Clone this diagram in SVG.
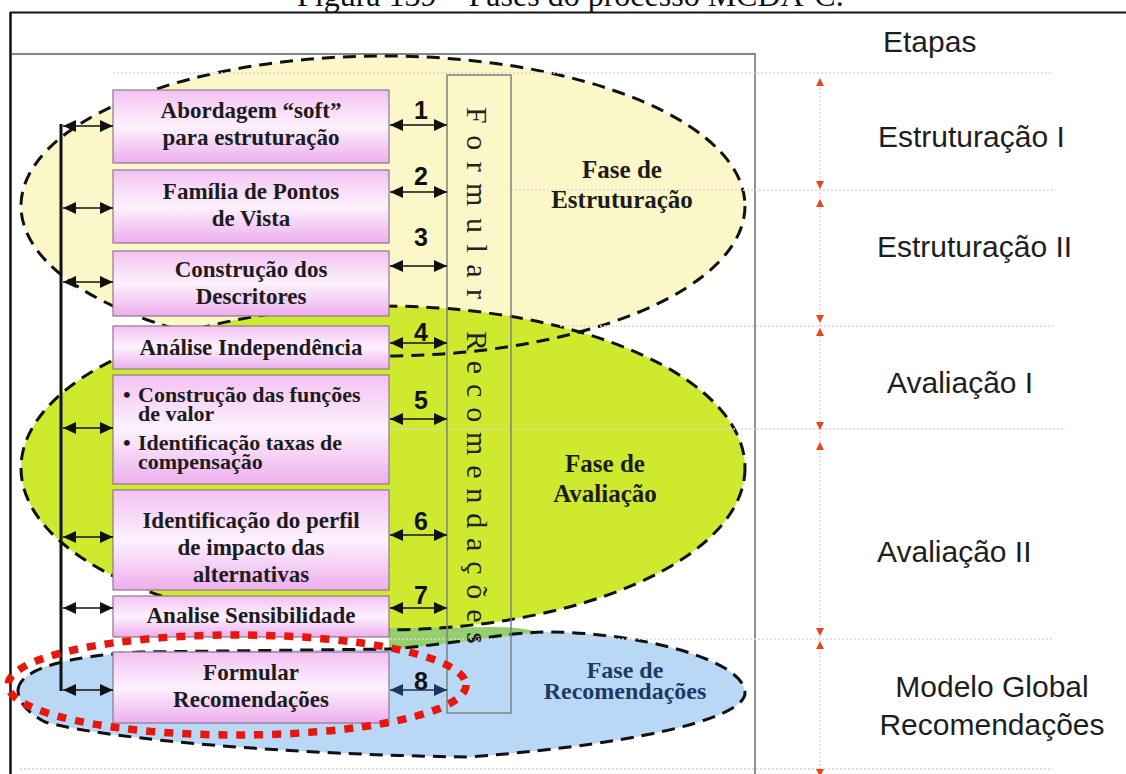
<svg xmlns="http://www.w3.org/2000/svg" xmlns:xlink="http://www.w3.org/1999/xlink" width="1126" height="774" viewBox="0 0 1126 774">
<defs>
<style>
.box{fill:url(#pink);stroke:#8a7a8a;stroke-width:1.2}
.bt{font-family:"Liberation Serif","Times New Roman",serif;font-weight:bold;font-size:23px;fill:#1c1c1c;text-anchor:middle}
.btl{font-family:"Liberation Serif","Times New Roman",serif;font-weight:bold;font-size:22px;fill:#1c1c1c}
.ph{font-family:"Liberation Serif","Times New Roman",serif;font-weight:bold;font-size:25px;fill:#1c1c1c;text-anchor:middle}
.et{font-family:"Liberation Sans",Arial,sans-serif;font-size:30px;fill:#1e1e1e}
.num{font-family:"Liberation Sans",Arial,sans-serif;font-weight:bold;font-size:25px;fill:#111;text-anchor:middle}
.col{font-family:"Liberation Serif","Times New Roman",serif;font-size:30px;fill:#222}
.dash{fill:none;stroke:#111;stroke-width:3;stroke-dasharray:13 8}
.arr{fill:none;stroke:#111;stroke-width:1.6;marker-start:url(#hk);marker-end:url(#hk)}
.arrb{fill:none;stroke:#1d3557;stroke-width:1.6;marker-start:url(#hb);marker-end:url(#hb)}
.guide{fill:none;stroke:#e6d2d2;stroke-width:1.5;stroke-dasharray:2 2}
.tri{fill:#e8471b}
</style>
<linearGradient id="pink" x1="0" y1="0" x2="0" y2="1">
<stop offset="0" stop-color="#f3c1f3"/>
<stop offset="0.5" stop-color="#fdf2fd"/>
<stop offset="1" stop-color="#edaeed"/>
</linearGradient>
<marker id="hk" viewBox="0 0 13 12" refX="13" refY="6" markerWidth="13" markerHeight="12" markerUnits="userSpaceOnUse" orient="auto-start-reverse"><path d="M0,0 L13,6 L0,12 z" fill="#111"/></marker>
<marker id="hb" viewBox="0 0 13 12" refX="13" refY="6" markerWidth="13" markerHeight="12" markerUnits="userSpaceOnUse" orient="auto-start-reverse"><path d="M0,0 L13,6 L0,12 z" fill="#1d3557"/></marker>
<ellipse id="eY" cx="383" cy="206" rx="362" ry="150"/>
<ellipse id="eG" cx="383" cy="468" rx="362" ry="162"/>
<path id="eB" d="M18,690 C20,668 70,656 140,652 L390,649 C450,645 500,633 545,632 C640,632 745,660 745,693 C745,715 660,742 470,757 C300,755 110,740 45,722 C28,713 18,702 18,690 Z"/>
</defs>
<rect width="1126" height="774" fill="#ffffff"/>
<text x="297" y="6" style="font-family:'Liberation Serif','Times New Roman',serif;font-size:32px;fill:#111">Figura 139 – Fases do processo MCDA-C.</text>
<line x1="10" y1="12.5" x2="1126" y2="12.5" stroke="#111" stroke-width="2"/>
<line x1="10.5" y1="12" x2="10.5" y2="774" stroke="#111" stroke-width="2.5"/>
<polyline points="12,54 755,54 755,774" fill="none" stroke="#858585" stroke-width="1.8"/>

<g id="phases">
<use xlink:href="#eB" fill="#b9d8f5"/>
<use xlink:href="#eY" fill="#fbf7c9"/>
<use xlink:href="#eG" fill="#cfe92f"/>
<path d="M389,628 L495,627 Q520,627 538,632 Q470,641 389,650 Z" fill="#94cf6e"/>
<use xlink:href="#eY" class="dash"/>
<use xlink:href="#eG" class="dash"/>
<use xlink:href="#eB" class="dash"/>
</g>

<g id="guides">
<line class="guide" x1="113" y1="73" x2="1053" y2="73"/>
<line class="guide" x1="511" y1="190" x2="1053" y2="190"/>
<line class="guide" x1="560" y1="326" x2="1053" y2="326"/>
<line class="guide" x1="113" y1="429" x2="1063" y2="429"/>
<line class="guide" x1="390" y1="639" x2="1053" y2="639"/>
<line class="guide" x1="20" y1="769" x2="1053" y2="769"/>
<line x1="820" y1="80" x2="820" y2="774" stroke="#f1c9c0" stroke-width="1.3" stroke-dasharray="2 2"/>
</g>

<g id="column">
<rect x="447" y="75" width="64" height="638" fill="none" stroke="#808080" stroke-width="1.5"/>
<text class="col" transform="translate(467,107) rotate(90)" textLength="192" lengthAdjust="spacing">Formular</text>
<text class="col" transform="translate(467,331) rotate(90)" textLength="313" lengthAdjust="spacing">Recomendações</text>
</g>

<g id="n1"><rect class="box" x="113" y="90" width="276" height="73"/><text class="bt" x="251" y="118">Abordagem “soft”</text><text class="bt" x="251" y="145">para estruturação</text></g>
<g id="n2"><rect class="box" x="113" y="170" width="276" height="73"/><text class="bt" x="251" y="199">Família de Pontos</text><text class="bt" x="251" y="226">de Vista</text></g>
<g id="n3"><rect class="box" x="113" y="251" width="276" height="65"/><text class="bt" x="251" y="277">Construção dos</text><text class="bt" x="251" y="304">Descritores</text></g>
<g id="n4"><rect class="box" x="113" y="326" width="276" height="43"/><text class="bt" x="251" y="355">Análise Independência</text></g>
<g id="n5"><rect class="box" x="113" y="375" width="276" height="109"/>
<text class="btl" x="123" y="402">•</text><text class="btl" x="138" y="402">Construção das funções</text>
<text class="btl" x="138" y="421">de valor</text>
<text class="btl" x="123" y="450">•</text><text class="btl" x="138" y="450">Identificação taxas de</text>
<text class="btl" x="138" y="469">compensação</text></g>
<g id="n6"><rect class="box" x="113" y="490" width="276" height="100"/><text class="bt" x="251" y="528">Identificação do perfil</text><text class="bt" x="251" y="555">de impacto das</text><text class="bt" x="251" y="582">alternativas</text></g>
<g id="n7"><rect class="box" x="113" y="596" width="276" height="41"/><text class="bt" x="251" y="623">Analise Sensibilidade</text></g>
<g id="n8"><rect class="box" x="113" y="652" width="276" height="71"/><text class="bt" x="251" y="680">Formular</text><text class="bt" x="251" y="707">Recomendações</text></g>

<g id="connectors">
<line x1="61" y1="124" x2="61" y2="691" stroke="#111" stroke-width="3"/>
<line class="arr" x1="63" y1="126" x2="113" y2="126"/>
<line class="arr" x1="63" y1="208" x2="113" y2="208"/>
<line class="arr" x1="63" y1="282" x2="113" y2="282"/>
<line class="arr" x1="63" y1="428" x2="113" y2="428"/>
<line class="arr" x1="63" y1="537" x2="113" y2="537"/>
<line class="arr" x1="63" y1="608" x2="113" y2="608"/>
<line class="arr" x1="63" y1="690" x2="113" y2="690"/>
<line class="arr" x1="390" y1="125" x2="447" y2="125"/>
<line class="arr" x1="390" y1="192" x2="447" y2="192"/>
<line class="arr" x1="390" y1="266" x2="447" y2="266"/>
<line class="arr" x1="390" y1="343" x2="447" y2="343"/>
<line class="arr" x1="390" y1="419" x2="447" y2="419"/>
<line class="arr" x1="390" y1="535" x2="447" y2="535"/>
<line class="arr" x1="390" y1="608" x2="447" y2="608"/>
<line class="arrb" x1="390" y1="690" x2="447" y2="690"/>
<text class="num" x="421" y="119">1</text>
<text class="num" x="421" y="185">2</text>
<text class="num" x="421" y="246">3</text>
<text class="num" x="421" y="341">4</text>
<text class="num" x="421" y="409">5</text>
<text class="num" x="421" y="530">6</text>
<text class="num" x="421" y="604">7</text>
<text class="num" x="421" y="690">8</text>
</g>

<g id="phase-labels">
<text class="ph" x="622" y="178">Fase de</text>
<text class="ph" x="622" y="208">Estruturação</text>
<text class="ph" x="605" y="472">Fase de</text>
<text class="ph" x="605" y="502">Avaliação</text>
<text class="ph" x="625" y="678" style="fill:#1c3a66;font-size:24px">Fase de</text>
<text class="ph" x="625" y="699" style="fill:#1c3a66;font-size:24px">Recomendações</text>
</g>

<g id="etapas">
<text class="et" x="883" y="52">Etapas</text>
<text class="et" x="878" y="147">Estruturação I</text>
<text class="et" x="877" y="257">Estruturação II</text>
<text class="et" x="887" y="393">Avaliação I</text>
<text class="et" x="877" y="562">Avaliação II</text>
<text class="et" x="992" y="697" text-anchor="middle">Modelo Global</text>
<text class="et" x="992" y="735" text-anchor="middle">Recomendações</text>
</g>

<g id="stage-arrows">
<path class="tri" d="M820,78 L824,86 L816,86 Z"/>
<path class="tri" d="M820,189 L824,181 L816,181 Z"/>
<path class="tri" d="M820,199 L824,207 L816,207 Z"/>
<path class="tri" d="M820,323 L824,315 L816,315 Z"/>
<path class="tri" d="M820,328 L824,336 L816,336 Z"/>
<path class="tri" d="M820,430 L824,422 L816,422 Z"/>
<path class="tri" d="M820,442 L824,450 L816,450 Z"/>
<path class="tri" d="M820,636 L824,628 L816,628 Z"/>
<path class="tri" d="M820,641 L824,649 L816,649 Z"/>
<path class="tri" d="M820,777 L824,769 L816,769 Z"/>
</g>

<ellipse id="highlight" cx="237" cy="685" rx="229" ry="50" fill="none" stroke="#e8160c" stroke-width="7.5" stroke-dasharray="9 9"/>
</svg>
